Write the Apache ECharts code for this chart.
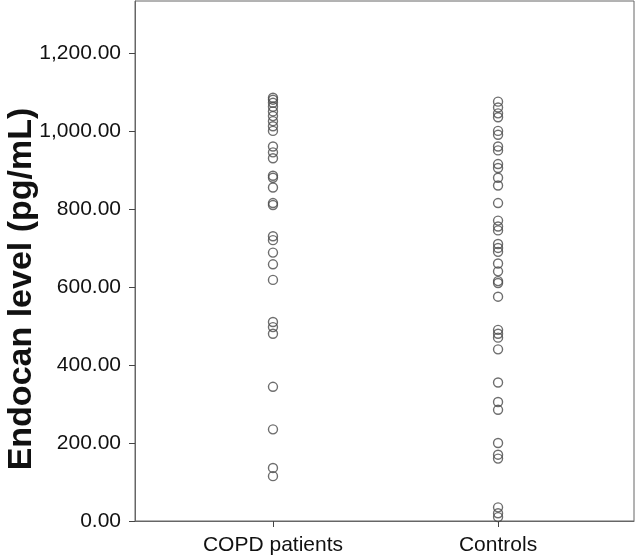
<!DOCTYPE html>
<html><head><meta charset="utf-8">
<script src="https://cdn.jsdelivr.net/npm/echarts@6/dist/echarts.min.js"></script>
<style>html,body{margin:0;padding:0;background:#fff}#c{width:638px;height:560px}</style>
</head><body><div id="c"></div>
<script>
var categories = ['COPD patients', 'Controls'];
var copdValues = [1085, 1080, 1072, 1062, 1050, 1038, 1025, 1012, 1000, 960, 945, 930, 885, 880, 855, 815, 810, 730, 720, 688, 658, 618, 510, 497, 480, 344, 235, 136, 115];
var controlValues = [1075, 1060, 1045, 1035, 1000, 990, 960, 950, 915, 905, 880, 860, 815, 770, 755, 745, 710, 700, 690, 660, 640, 615, 610, 575, 490, 480, 470, 440, 355, 305, 285, 200, 170, 160, 35, 20, 10];
var yTicks = [0, 200, 400, 600, 800, 1000, 1200];
var yTitle = 'Endocan level (pg/mL)';

var chart = echarts.init(document.getElementById('c'));
var ser = [copdValues, controlValues].map(function (vals, i) {
  return {
    type: 'scatter', symbol: 'circle', symbolSize: 9,
    itemStyle: { color: 'rgba(255,255,255,0)', borderColor: '#4a4a4a', borderWidth: 1.4 },
    data: vals.map(function (v) { return [i, v]; })
  };
});
chart.setOption({
  animation: false,
  grid: { left: 135, right: 4, top: 1, bottom: 39, show: true, borderColor: '#666', borderWidth: 1 },
  graphic: [{
    type: 'text', x: 22, y: 289, rotation: Math.PI / 2,
    style: { text: yTitle, font: 'bold 34px "Liberation Sans", Arial', fill: '#111',
      textAlign: 'center', textVerticalAlign: 'middle' }
  }],
  xAxis: {
    type: 'value', min: -0.613, max: 1.604,
    splitLine: { show: false },
    axisLine: { onZero: false, lineStyle: { color: '#666' } },
    axisTick: { show: true, length: 6, customValues: [0, 1], lineStyle: { color: '#444' } },
    axisLabel: { customValues: [0, 1], formatter: function (v) { return categories[Math.round(v)]; },
      fontFamily: 'Liberation Sans, Arial', fontSize: 21, color: '#111', margin: 14 }
  },
  yAxis: {
    type: 'value', min: 0, max: 1333,
    splitLine: { show: false },
    axisLine: { show: true, onZero: false, lineStyle: { color: '#666' } },
    axisTick: { show: true, length: 6, customValues: yTicks, lineStyle: { color: '#444' } },
    axisLabel: { customValues: yTicks, formatter: function (v) {
        return v.toLocaleString('en-US', { minimumFractionDigits: 2, maximumFractionDigits: 2 }); },
      fontFamily: 'Liberation Sans, Arial', fontSize: 21, color: '#111', margin: 14 }
  },
  series: ser
});
</script></body></html>
